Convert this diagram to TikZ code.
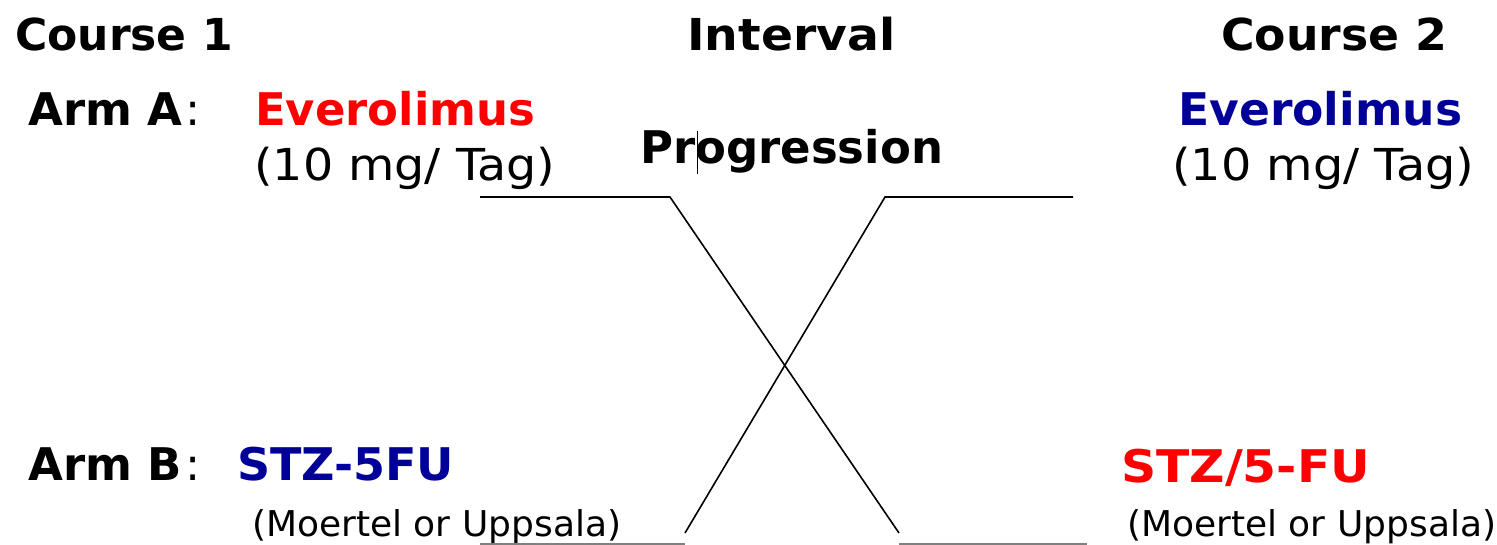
\documentclass[tikz,border=0pt]{standalone}
\usepackage{fontspec}
\usepackage{graphicx}
\setmainfont{DejaVu Sans}
\definecolor{drugred}{RGB}{255,0,0}
\definecolor{drugblue}{RGB}{0,0,153}
% set a text to a given width, keeping its height
\newcommand\wfit[2]{\resizebox{#1}{\height}{#2}}
\tikzset{
  lbl/.style={inner sep=0pt, anchor=base west},
  head/.style={lbl, font=\bfseries\fontsize{44}{48}\selectfont},
  drug/.style={lbl, font=\bfseries\fontsize{45}{50}\selectfont},
  dose/.style={lbl, font=\fontsize{44}{48}\selectfont},
  regimen/.style={lbl, font=\fontsize{35.5}{40}\selectfont},
  swap/.style={line width=1.6pt, black, line join=miter},
}
\begin{document}
\begin{tikzpicture}[x=1pt, y=-1pt]
  \useasboundingbox (0,0) rectangle (1497,545);

  % column headings
  \node[head] (c1) at (15,51) {Course 1};
  \node[head] (iv) at (687,51) {\wfit{208pt}{Interval}};
  \node[head] (c2) at (1221,51) {\wfit{226pt}{Course 2}};

  % arm A
  \node[drug] (armA) at (28,126) {Arm A\mdseries\hspace{3pt}:};
  \node[drug, text=drugred] (everoA) at (255,126) {Everolimus};
  \node[dose] (doseA) at (254,181) {\wfit{301pt}{(10 mg/ Tag)}};
  \node[drug, text=drugblue] (everoB) at (1178,126) {\wfit{284pt}{Everolimus}};
  \node[dose] (doseB) at (1172,181) {\wfit{302pt}{(10 mg/ Tag)}};

  % interval label with its text cursor
  \node[drug] (prog) at (640,164) {Progression};
  \coordinate (curT) at (697,131);
  \coordinate (curB) at (697,174);
  \draw[line width=1pt] (curT) -- (curB);

  % arm B
  \node[drug] (armB) at (28,480) {Arm B\mdseries\hspace{3pt}:};
  \node[drug, text=drugblue] (stzA) at (237,480) {\wfit{217pt}{STZ-5FU}};
  \node[regimen] (regA) at (252,536) {\wfit{369pt}{(Moertel or Uppsala)}};
  \node[drug, text=drugred] (stzB) at (1121,482) {\wfit{249pt}{STZ/5-FU}};
  \node[regimen] (regB) at (1127,536) {\wfit{369pt}{(Moertel or Uppsala)}};

  % crossover paths
  \coordinate (aL)  at (480,197);
  \coordinate (aK)  at (670,197);
  \coordinate (aK2) at (899,533);
  \coordinate (aR)  at (1087,544);
  \coordinate (aRk) at (899,544);
  \coordinate (bL)  at (480,544);
  \coordinate (bLk) at (685,544);
  \coordinate (bK)  at (685,533);
  \coordinate (bK2) at (885,197);
  \coordinate (bR)  at (1073,197);

  \draw[swap] (aL) -- (aK) -- (aK2);
  \draw[swap] (bR) -- (bK2) -- (bK);
  \draw[swap, gray] (bL) -- (bLk);
  \draw[swap, gray] (aRk) -- (aR);
\end{tikzpicture}
\end{document}
